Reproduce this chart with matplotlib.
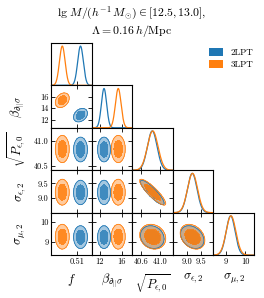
import matplotlib
matplotlib.use('Agg')
from matplotlib import pyplot as plt
from matplotlib.patches import Patch
import numpy as np

plt.rcParams['font.family'] = 'cmr10'
plt.rcParams['mathtext.fontset'] = 'cm'
plt.rcParams['axes.unicode_minus'] = False

# parameters of the corner plot
labels = [r'$f$', r'$\beta_{\partial_{||}\sigma}$', r'$\sqrt{P_{\epsilon,0}}$',
          r'$\sigma_{\epsilon,2}$', r'$\sigma_{\mu,2}$']
series = ['2LPT', '3LPT']
colors = ['#1f77b4', '#ff7f0e']

# estimated posterior means / widths
mean_2lpt = [0.5125, 12.8, 40.83, 9.19, 9.24]
sigma_2lpt = [0.0021, 0.48, 0.10, 0.17, 0.23]
mean_3lpt = [0.4990, 15.4, 40.84, 9.20, 9.26]
sigma_3lpt = [0.0021, 0.52, 0.11, 0.18, 0.25]

# correlation coefficients (lower triangle, row > col)
corr_pairs = {(1, 0): 0.3, (2, 0): 0.0, (2, 1): 0.0, (3, 0): 0.0, (3, 1): 0.0,
              (3, 2): -0.88, (4, 0): 0.0, (4, 1): 0.0, (4, 2): -0.15, (4, 3): -0.3}

limits = [(0.491, 0.521), (10.6, 18.0), (40.42, 41.26), (8.5, 9.95), (8.35, 10.45)]
xticks = [[0.51], [12, 16], [40.6, 41.0], [9.0, 9.5], [9, 10]]
xticklabels = [['0.51'], ['12', '16'], ['40.6', '41.0'], ['9.0', '9.5'], ['9', '10']]
yticks = [[0.51], [12, 14, 16], [40.5, 41.0], [9.0, 9.5], [9, 10]]
yticklabels = [['0.51'], ['12', '14', '16'], ['40.5', '41.0'], ['9.0', '9.5'], ['9', '10']]

title = r'$\lg\, M/(h^{-1}\,M_{\odot}) \in [12.5, 13.0]$,' + '\n' + r'$\Lambda = 0.16\,h/\mathrm{Mpc}$'

means = [mean_2lpt, mean_3lpt]
sigmas = [sigma_2lpt, sigma_3lpt]
inner_alpha = [0.75, 0.85]
n = len(labels)

fig, axes = plt.subplots(n, n, figsize=(2.64, 2.98), dpi=100)
plt.subplots_adjust(left=0.195, right=0.962, top=0.856, bottom=0.144, wspace=0, hspace=0)

lev_out = np.exp(-5.99 / 2)
lev_in = np.exp(-2.28 / 2)

for i in range(n):
    for j in range(n):
        ax = axes[i, j]
        if j > i:
            ax.axis('off')
            continue
        ax.tick_params(direction='in', length=3, width=0.6, labelsize=6, pad=2)
        for s in ax.spines.values():
            s.set_linewidth(0.8)
        ax.set_xlim(*limits[j])
        ax.set_xticks(xticks[j])
        if i == n - 1:
            ax.set_xticklabels(xticklabels[j])
            ax.set_xlabel(labels[j], fontsize=9)
        else:
            ax.set_xticklabels([])
        if i == j:
            # 1D marginals
            x = np.linspace(*limits[j], 300)
            for k in range(2):
                m, s = means[k][j], sigmas[k][j]
                y = np.exp(-0.5 * ((x - m) / s) ** 2)
                ax.plot(x, y, color=colors[k], lw=0.9)
            ax.set_ylim(0, 1.08)
            ax.set_yticks([])
            ax.tick_params(top=False, left=False, right=False)
            continue
        ax.tick_params(top=True, right=True)
        ax.set_ylim(*limits[i])
        ax.set_yticks(yticks[i])
        if j == 0:
            ax.set_yticklabels(yticklabels[i])
            ax.set_ylabel(labels[i], fontsize=9)
        else:
            ax.set_yticklabels([])
        # 2D contours (68% / 95%)
        rho = corr_pairs[(i, j)]
        gx = np.linspace(*limits[j], 200)
        gy = np.linspace(*limits[i], 200)
        X, Y = np.meshgrid(gx, gy)
        for k in range(2):
            u = (X - means[k][j]) / sigmas[k][j]
            v = (Y - means[k][i]) / sigmas[k][i]
            r2 = (u ** 2 - 2 * rho * u * v + v ** 2) / (1 - rho ** 2)
            Z = np.exp(-r2 / 2)
            ax.contourf(X, Y, Z, levels=[lev_out, 1.1], colors=[colors[k]], alpha=0.4)
            ax.contourf(X, Y, Z, levels=[lev_in, 1.1], colors=[colors[k]], alpha=inner_alpha[k])
            ax.contour(X, Y, Z, levels=[lev_out], colors=[colors[k]], linewidths=0.6)

fig.align_ylabels(axes[:, 0])
fig.suptitle(title, fontsize=8.5, y=0.985, linespacing=1.1)

handles = [Patch(facecolor=c, label=l) for c, l in zip(colors, series)]
fig.legend(handles=handles, loc='upper left', bbox_to_anchor=(0.76, 0.865), frameon=False,
           fontsize=6.5, handlelength=1.6, handleheight=1.0, labelspacing=0.3)

plt.savefig('out.png', dpi=100)
plt.close()
